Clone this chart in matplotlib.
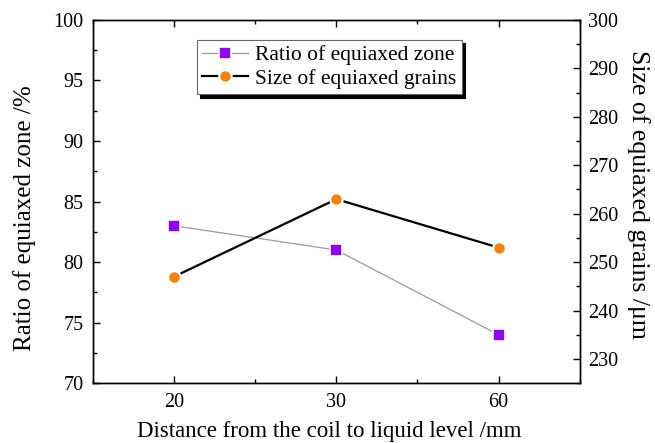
import matplotlib.pyplot as plt
from matplotlib.ticker import MultipleLocator

plt.rcParams['font.family'] = ['Liberation Serif', 'DejaVu Serif']

# distance from the coil to the liquid level, mm
distances = ['20', '30', '60']
ratio_zone = [83, 81, 74]        # ratio of equiaxed zone, %
grain_size = [247, 263, 253]     # size of equiaxed grains, um

x = [1, 2, 3]

fig = plt.figure(figsize=(6.55, 4.43), dpi=100)
ax = fig.add_axes([0.142, 0.135, 0.743, 0.820])
ax2 = ax.twinx()

l1, = ax.plot(x, ratio_zone, color='#9a9a9a', lw=0.9, marker='s', ms=8,
              mfc='#9100ff', mec='white', mew=1.2, label='Ratio of equiaxed zone')
l2, = ax2.plot(x, grain_size, color='black', lw=1.6, marker='o', ms=9,
               mfc='#ff8000', mec='white', mew=1.5, label='Size of equiaxed grains')

ax.set_xlim(0.5, 3.5)
ax.set_xticks(x)
ax.set_xticklabels(distances)
ax.xaxis.set_minor_locator(MultipleLocator(0.5))

ax.set_ylim(70, 100)
ax.yaxis.set_major_locator(MultipleLocator(5))
ax.yaxis.set_minor_locator(MultipleLocator(2.5))

ax2.set_ylim(225, 300)
ax2.set_yticks(range(230, 301, 10))
ax2.yaxis.set_minor_locator(MultipleLocator(5))

ax.tick_params(which='both', direction='in', top=True, right=False,
               labelsize=14.5, pad=7)
ax.tick_params(which='major', length=5, width=1)
ax.tick_params(which='minor', length=3, width=1)
ax2.tick_params(which='both', direction='in', left=False, labelsize=14.5, pad=6)
ax2.tick_params(which='major', length=5, width=1)
ax2.tick_params(which='minor', length=3, width=1)

for a in (ax, ax2):
    for s in a.spines.values():
        s.set_linewidth(1.0)

# axis titles
fig.text(0.502, 0.027, 'Distance from the coil to liquid level /mm',
         fontsize=16.5, ha='center', va='center')
fig.text(0.037, 0.508, 'Ratio of equiaxed zone /%', fontsize=18,
         rotation=90, ha='center', va='center')
fig.text(0.975, 0.562, 'Size of equiaxed grains /\u03bcm', fontsize=18.5,
         rotation=270, ha='center', va='center')

leg = ax2.legend(handles=[l1, l2], loc='upper left', bbox_to_anchor=(0.2136, 0.945),
                 fontsize=15.5, frameon=True, fancybox=False,
                 shadow={'color': 'black', 'alpha': 1.0, 'ox': 2.5, 'oy': -2.5},
                 edgecolor='#666666',
                 borderpad=0.25, handlelength=2.1, handletextpad=0.35,
                 labelspacing=0.15, borderaxespad=0)
leg.get_frame().set_linewidth(0.8)

fig.savefig('out.png', dpi=100)
